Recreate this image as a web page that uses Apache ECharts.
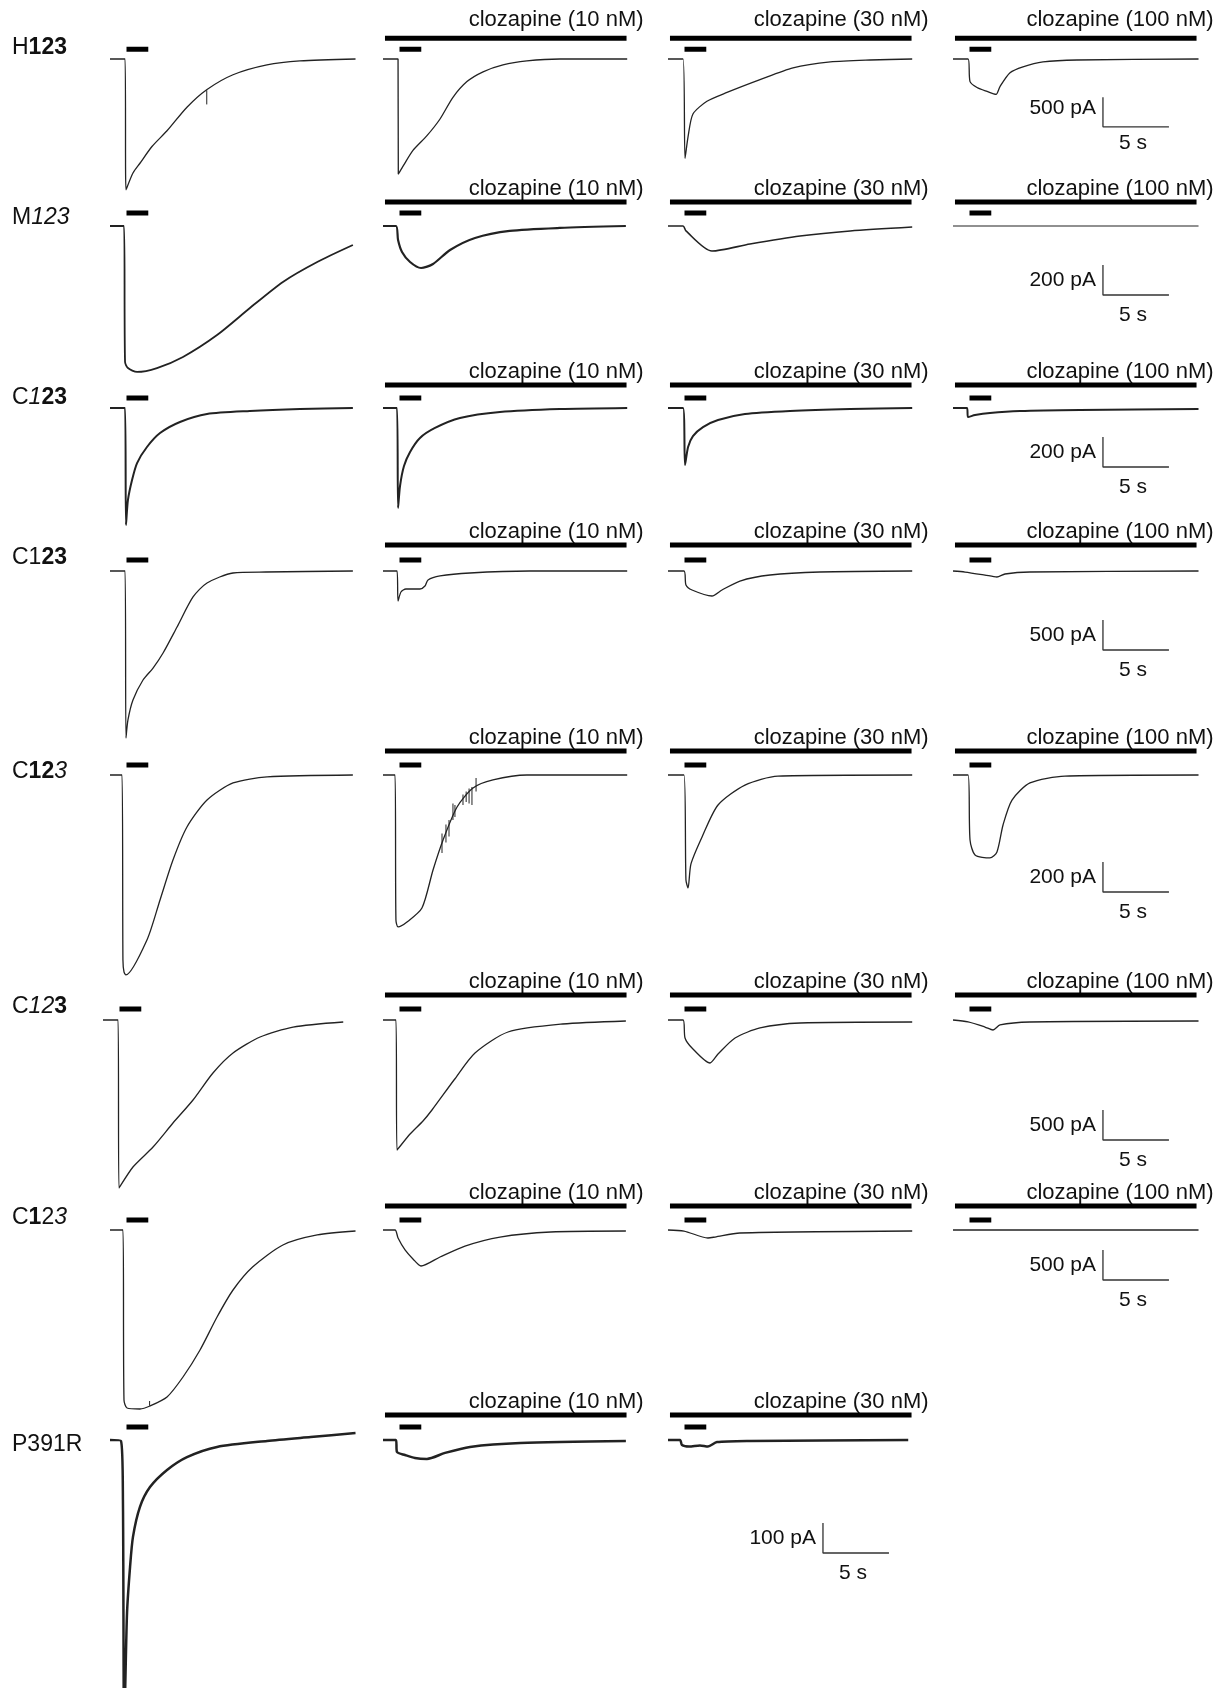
<!DOCTYPE html>
<html>
<head>
<meta charset="utf-8">
<script src="https://cdn.jsdelivr.net/npm/echarts@6/dist/echarts.min.js"></script>
<style>
html,body{margin:0;padding:0;background:#fff;}
#chart{width:1222px;height:1688px;}
</style>
</head>
<body>
<div id="chart"></div>
<script>
// ---------------- DATA (time in s, current in pA) ----------------
const rowNames = ['H123','M123','C123a','C123b','C123c','C123d','C123e','P391R'];
const concLabels = ['clozapine (10 nM)','clozapine (30 nM)','clozapine (100 nM)'];
const scaleCurrents = [500,200,200,500,200,500,500,100]; // pA per scale bar
const scaleTime = 5; // s

// Row 1: H123
const H123_control = [[0,0],[1.14,0],[1.21,-2217],[1.74,-1933],[2.27,-1767],[3.18,-1483],[4.32,-1217],[5.83,-817],[7.35,-517],[9.32,-267],[11.89,-100],[14.39,-33],[18.6,0]];
const H123_control_artifacts = [[7.33,-530],[7.33,-770]];
const H123_cloz10 = [[0,0],[1.14,0],[1.16,-1950],[1.52,-1817],[2.27,-1550],[3.33,-1300],[4.32,-1017],[5.3,-650],[6.36,-383],[7.58,-217],[9.09,-100],[10.9,-33],[13.4,0],[18.5,0]];
const H123_cloz30 = [[0,0],[1.14,0],[1.29,-1683],[1.52,-1317],[1.89,-933],[2.95,-717],[4.47,-567],[6.97,-350],[9.47,-150],[12.3,-50],[15.3,-17],[18.5,0]];
const H123_cloz100 = [[0,0],[1.14,0],[1.29,-383],[1.82,-483],[2.58,-550],[3.26,-600],[3.56,-467],[4.32,-233],[5.3,-133],[6.82,-50],[9.39,-17],[18.6,0]];
// Row 2: M123
const M123_control = [[0,0],[1.06,0],[1.14,-907],[1.36,-947],[2.05,-973],[3.56,-947],[5.53,-873],[8.11,-727],[10.6,-547],[13.1,-373],[15.7,-240],[18.4,-127]];
const M123_cloz10 = [[0,0],[0.98,0],[1.14,-93],[1.44,-173],[2.05,-240],[2.88,-280],[3.79,-253],[5.08,-160],[6.97,-80],[9.6,-33],[13.4,-13],[18.4,0]];
const M123_cloz30 = [[0,0],[1.14,0],[1.36,-33],[3.33,-167],[6.21,-120],[10.0,-67],[13.8,-33],[18.5,-7]];
const M123_cloz100 = [[0,0],[18.6,0]];
// Row 3
const C123a_control = [[0,0],[1.14,0],[1.21,-780],[1.36,-613],[1.67,-480],[2.05,-367],[2.8,-260],[3.79,-167],[5.3,-93],[7.35,-40],[10.6,-20],[14.4,-7],[18.4,0]];
const C123a_cloz10 = [[0,0],[1.06,0],[1.14,-667],[1.29,-520],[1.59,-387],[2.05,-293],[2.8,-200],[3.94,-133],[5.83,-67],[8.86,-27],[13.4,-7],[18.5,0]];
const C123a_cloz30 = [[0,0],[1.14,0],[1.29,-380],[1.52,-260],[1.89,-187],[2.65,-127],[3.79,-80],[5.83,-40],[9.24,-20],[13.8,-7],[18.5,0]];
const C123a_cloz100 = [[0,0],[1.06,0],[1.14,-60],[1.67,-47],[2.8,-33],[5.08,-20],[9.6,-13],[18.6,-7]];
// Row 4
const C123b_control = [[0,0],[1.14,0],[1.21,-2783],[1.36,-2483],[1.74,-2150],[2.5,-1817],[3.26,-1617],[4.02,-1367],[5.08,-933],[6.29,-433],[7.35,-200],[9.32,-33],[11.8,-17],[18.4,0]];
const C123b_cloz10 = [[0,0],[1.06,0],[1.14,-500],[1.36,-350],[1.74,-300],[2.8,-300],[3.18,-250],[3.41,-150],[4.32,-83],[6.59,-33],[11.1,0],[18.5,0]];
const C123b_cloz30 = [[0,0],[1.21,0],[1.36,-233],[1.82,-317],[3.33,-417],[4.09,-317],[5.45,-167],[7.73,-67],[11.5,-17],[18.5,0]];
const C123b_cloz100 = [[0,0],[0.91,-17],[2.42,-67],[3.33,-100],[3.94,-50],[5.83,-17],[18.6,0]];
// Row 5
const C123c_control = [[0,0],[0.91,0],[0.98,-1233],[1.06,-1313],[1.21,-1333],[2.8,-1100],[3.79,-833],[4.77,-567],[5.83,-347],[7.35,-167],[9.32,-53],[11.9,-13],[18.4,0]];
const C123c_cloz10 = [[0,0],[0.91,0],[0.98,-967],[1.14,-1013],[1.82,-980],[2.95,-887],[3.79,-633],[4.55,-433],[5.61,-213],[6.82,-87],[8.33,-33],[10.9,0],[18.5,0]];
const C123c_cloz10_artifacts = [[4.47,-390],[4.47,-520],null,[4.77,-330],[4.77,-450],null,[5.0,-300],[5.0,-410],null,[5.3,-190],[5.3,-300],null,[5.45,-200],[5.45,-280],null,[6.06,-130],[6.06,-200],null,[6.3,-110],[6.3,-180],null,[6.52,-90],[6.52,-190],null,[6.74,-80],[6.74,-200],null,[7.05,-20],[7.05,-110]];
const C123c_cloz30 = [[0,0],[1.21,0],[1.36,-700],[1.52,-753],[1.74,-593],[2.58,-413],[3.79,-200],[5.83,-67],[8.33,-7],[18.5,0]];
const C123c_cloz100 = [[0,0],[1.14,0],[1.29,-433],[1.67,-533],[2.8,-553],[3.33,-513],[3.79,-333],[4.47,-167],[5.83,-53],[8.48,-7],[18.6,0]];
// Row 6
const C123d_control = [[0,0],[1.14,0],[1.21,-2800],[2.27,-2450],[3.79,-2117],[5.3,-1717],[6.82,-1333],[8.33,-883],[9.85,-550],[11.9,-283],[14.4,-117],[18.2,-33]];
const C123d_cloz10 = [[0,0],[0.98,0],[1.06,-2167],[2.05,-1900],[3.03,-1683],[3.71,-1500],[5.38,-1000],[6.97,-550],[9.47,-200],[13.6,-67],[18.4,-17]];
const C123d_cloz30 = [[0,0],[1.14,0],[1.29,-300],[1.82,-467],[3.18,-717],[3.79,-567],[5.08,-300],[6.97,-133],[10.0,-50],[18.5,-33]];
const C123d_cloz100 = [[0,0],[1.14,-33],[2.42,-117],[3.03,-167],[3.56,-83],[5.83,-33],[18.6,-17]];
// Row 7
const C123e_control = [[0,0],[0.98,0],[1.06,-2833],[1.29,-2967],[2.27,-2983],[3.03,-2933],[4.32,-2783],[5.53,-2450],[6.82,-2000],[8.11,-1450],[9.32,-1000],[10.8,-617],[13.1,-250],[15.7,-83],[18.6,-17]];
const C123e_control_artifacts = [[3.0,-2930],[3.0,-2850]];
const C123e_cloz10 = [[0,0],[0.91,0],[1.14,-133],[1.67,-333],[2.27,-483],[2.88,-600],[4.32,-450],[6.21,-267],[8.86,-117],[12.7,-33],[18.4,-17]];
const C123e_cloz30 = [[0,0],[1.21,-17],[3.03,-133],[3.56,-117],[5.45,-50],[18.5,-17]];
const C123e_cloz100 = [[0,0],[18.6,0]];
// Row 8: P391R
const P391R_control = [[0,0],[0.83,-3],[0.98,-200],[1.06,-950],[1.14,-850],[1.29,-577],[1.52,-423],[1.74,-323],[2.27,-223],[3.03,-157],[4.32,-100],[5.83,-57],[8.11,-23],[11.9,-3],[15.2,10],[18.6,23]];
const P391R_cloz10 = [[0,0],[0.98,0],[1.06,-40],[1.67,-50],[2.42,-60],[3.33,-63],[4.7,-43],[6.59,-23],[10.4,-10],[18.4,-3]];
const P391R_cloz30 = [[0,0],[0.91,0],[1.06,-17],[1.6,-22],[2.42,-18],[3.03,-22],[3.71,-7],[6.21,-3],[18.2,0]];

const agonistPulse = [1.25, 2.9];   // s
const clozapineSpan = [0.15, 18.45]; // s

// ---------------- LAYOUT ----------------
const W = 1222, H = 1688;
const PX_PER_S = 13.2;
const T_MAX = 18.6;
const SCALE_PX = 30;
const FONT = "'Liberation Sans', Arial, Helvetica, sans-serif";
const colLefts = [110, 383, 668, 953];

const rows = [
  {label:'{n|H}{b|123}', base:54, labelY:48, col1:110, cloz:21, stim:10, sb:69, sbCol:3, traces:[H123_control,H123_cloz10,H123_cloz30,H123_cloz100], lw:[1.3,1.3,1.3,1.3]},
  {label:'{n|M}{i|123}', base:226, labelY:218, col1:110, cloz:24, stim:13, sb:69, sbCol:3, traces:[M123_control,M123_cloz10,M123_cloz30,M123_cloz100], lw:[1.8,2.2,1.6,1.2]},
  {label:'{n|C}{i|1}{b|23}', base:408, labelY:398, col1:110, cloz:23, stim:10, sb:59, sbCol:3, traces:[C123a_control,C123a_cloz10,C123a_cloz30,C123a_cloz100], lw:[2,2,2,2]},
  {label:'{n|C1}{b|23}', base:571, labelY:558, col1:110, cloz:26, stim:11, sb:79, sbCol:3, traces:[C123b_control,C123b_cloz10,C123b_cloz30,C123b_cloz100], lw:[1.3,1.3,1.3,1.3]},
  {label:'{n|C}{b|12}{i|3}', base:775, labelY:772, col1:110, cloz:24, stim:10, sb:117, sbCol:3, traces:[C123c_control,C123c_cloz10,C123c_cloz30,C123c_cloz100], lw:[1.3,1.3,1.3,1.3]},
  {label:'{n|C}{i|12}{b|3}', base:1020, labelY:1007, col1:103, cloz:25, stim:11, sb:120, sbCol:3, traces:[C123d_control,C123d_cloz10,C123d_cloz30,C123d_cloz100], lw:[1.3,1.3,1.3,1.3]},
  {label:'{n|C}{b|1}{n|2}{i|3}', base:1230, labelY:1218, col1:110, cloz:24, stim:10, sb:50, sbCol:3, traces:[C123e_control,C123e_cloz10,C123e_cloz30,C123e_cloz100], lw:[1.3,1.3,1.3,1.3]},
  {label:'{n|P391R}', base:1440, labelY:1445, col1:110, cloz:25, stim:13, sb:113, sbCol:2, traces:[P391R_control,P391R_cloz10,P391R_cloz30], lw:[2.5,2.5,2.5]}
];
const artifacts = {'0-0': H123_control_artifacts, '4-1': C123c_cloz10_artifacts, '6-0': C123e_control_artifacts};

const grids = [], xAxes = [], yAxes = [], series = [], graphics = [];
const TRACE_COLOR = '#222';
const richStyles = {
  n:{fontFamily:FONT,fontSize:23,fontWeight:'normal',fill:'#111'},
  b:{fontFamily:FONT,fontSize:23,fontWeight:'bold',fill:'#111'},
  i:{fontFamily:FONT,fontSize:23,fontStyle:'italic',fill:'#111'}
};

rows.forEach((row, r) => {
  const pApx = scaleCurrents[r] / SCALE_PX;
  graphics.push({type:'text', x:12, y:row.labelY, style:{text:row.label, rich:richStyles, verticalAlign:'middle', align:'left', fontFamily:FONT, fontSize:23}});
  row.traces.forEach((trace, c) => {
    const g = grids.length;
    const left = c === 0 ? row.col1 : colLefts[c];
    const top = row.base - 60;
    const height = Math.min(360, H - top - 2);
    grids.push({left:left, top:top, width:T_MAX*PX_PER_S, height:height, containLabel:false});
    xAxes.push({type:'value', gridIndex:g, min:0, max:T_MAX, show:false});
    yAxes.push({type:'value', gridIndex:g, min:-(height-60)*pApx, max:60*pApx, show:false});
    const common = {xAxisIndex:g, yAxisIndex:g, showSymbol:false, symbol:'none', clip:false, silent:true, animation:false};
    series.push(Object.assign({type:'line', data:trace, smooth:0.25, lineStyle:{color:TRACE_COLOR, width:row.lw[c]}}, common));
    if (artifacts[r+'-'+c]) {
      series.push(Object.assign({type:'line', data:artifacts[r+'-'+c], connectNulls:false, lineStyle:{color:TRACE_COLOR, width:1}}, common));
    }
    // agonist pulse bar
    const sy = row.stim * pApx;
    series.push(Object.assign({type:'line', data:[[agonistPulse[0], sy],[agonistPulse[1], sy]], lineStyle:{color:'#000', width:5, cap:'butt'}}, common));
    if (c > 0) {
      const cy = row.cloz * pApx;
      series.push(Object.assign({type:'line', data:[[clozapineSpan[0], cy],[clozapineSpan[1], cy]], lineStyle:{color:'#000', width:5, cap:'butt'}}, common));
      graphics.push({type:'text', x:left + clozapineSpan[1]*PX_PER_S + 17, y:row.base - row.cloz - 13,
        style:{text:concLabels[c-1], align:'right', verticalAlign:'middle', fontFamily:FONT, fontSize:22, fill:'#111'}});
    }
    if (c === row.sbCol) {
      const t0 = c === 3 ? 11.36 : 11.74;
      const yb = -row.sb * pApx;
      series.push(Object.assign({type:'line', data:[[t0, yb + scaleCurrents[r]],[t0, yb],[t0 + scaleTime, yb]], lineStyle:{color:'#333', width:1.3}}, common));
      const sx = left + t0*PX_PER_S;
      const syPx = row.base + row.sb;
      graphics.push({type:'text', x:sx - 7, y:syPx - 15, style:{text:scaleCurrents[r] + ' pA', align:'right', verticalAlign:'middle', fontFamily:FONT, fontSize:21, fill:'#111'}});
      graphics.push({type:'text', x:sx + 30, y:syPx + 20, style:{text:scaleTime + ' s', align:'center', verticalAlign:'middle', fontFamily:FONT, fontSize:21, fill:'#111'}});
    }
  });
});

const chart = echarts.init(document.getElementById('chart'), null, {renderer:'canvas'});
chart.setOption({
  backgroundColor:'#fff',
  animation:false,
  grid:grids, xAxis:xAxes, yAxis:yAxes, series:series, graphic:graphics
});
</script>
</body>
</html>
